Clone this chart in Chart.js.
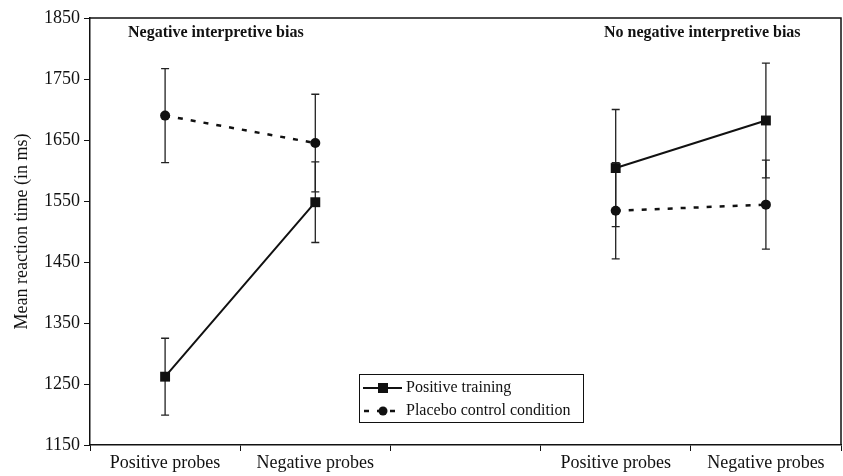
<!DOCTYPE html>
<html>
<head>
<meta charset="utf-8">
<script src="https://cdn.jsdelivr.net/npm/chart.js@4.4.1/dist/chart.umd.min.js"></script>
<style>
  html, body { margin: 0; padding: 0; background: #fff; overflow: hidden; }
  #wrap { width: 843px; height: 476px; overflow: hidden; }
</style>
</head>
<body>
<div id="wrap"><canvas id="grafico" width="848" height="476"></canvas></div>
<script>
// categories (the empty one separates the two groups)
var categories = ["Positive probes", "Negative probes", "", "Positive probes", "Negative probes"];

// mean reaction times (ms)
var training = [1262, 1548, null, 1604, 1682];
var placebo  = [1690, 1645, null, 1534, 1544];

// error bar half-lengths (ms)
var trainingErr = [63, 66, null, 96, 94];
var placeboErr  = [77, 80, null, 79, 73];

var yTicks = [1150, 1250, 1350, 1450, 1550, 1650, 1750, 1850];

var groupTitles = ["Negative interpretive bias", "No negative interpretive bias"];

var ink = '#111';
var serif = "'Liberation Serif', 'Times New Roman', serif";

// error bars drawn under the markers
var errorBars = {
	id: 'errorBars',
	beforeDatasetsDraw: function(chart){
		var ctx = chart.ctx;
		var x = chart.scales.x, y = chart.scales.y;
		var sets = [[training, trainingErr], [placebo, placeboErr]];
		ctx.save();
		ctx.strokeStyle = '#222';
		ctx.lineWidth = 1.3;
		sets.forEach(function(s){
			s[0].forEach(function(v, i){
				if (v === null) return;
				var px = x.getPixelForValue(i);
				var top = y.getPixelForValue(v + s[1][i]);
				var bot = y.getPixelForValue(v - s[1][i]);
				ctx.beginPath();
				ctx.moveTo(px, top); ctx.lineTo(px, bot);
				ctx.moveTo(px - 4, top); ctx.lineTo(px + 4, top);
				ctx.moveTo(px - 4, bot); ctx.lineTo(px + 4, bot);
				ctx.stroke();
			});
		});
		ctx.restore();
	}
};

// box, group titles and the legend inside the plot
var decorations = {
	id: 'decorations',
	afterDraw: function(chart){
		var ctx = chart.ctx, a = chart.chartArea;
		ctx.save();
		ctx.strokeStyle = ink;
		ctx.lineWidth = 1.5;
		ctx.beginPath();
		ctx.moveTo(a.left, a.top); ctx.lineTo(a.right, a.top); ctx.lineTo(a.right, a.bottom);
		ctx.stroke();

		ctx.fillStyle = ink;
		ctx.font = "bold 16px " + serif;
		ctx.textBaseline = 'middle';
		ctx.textAlign = 'left';
		ctx.fillText(groupTitles[0], a.left + 38, a.top + 15);
		ctx.fillText(groupTitles[1], a.left + 514, a.top + 15);

		// legend
		var lx = 359, ly = 374, lw = 224, lh = 48;
		ctx.fillStyle = '#fff';
		ctx.fillRect(lx, ly, lw, lh);
		ctx.lineWidth = 1;
		ctx.strokeStyle = ink;
		ctx.strokeRect(lx + 0.5, ly + 0.5, lw, lh);

		ctx.lineWidth = 2;
		ctx.beginPath(); ctx.moveTo(363, 388); ctx.lineTo(402, 388); ctx.stroke();
		ctx.fillStyle = ink;
		ctx.fillRect(378, 383, 10, 10);

		ctx.lineWidth = 2.5;
		ctx.setLineDash([5, 8]);
		ctx.beginPath(); ctx.moveTo(364, 411); ctx.lineTo(403, 411); ctx.stroke();
		ctx.setLineDash([]);
		ctx.beginPath(); ctx.arc(383, 411, 4.5, 0, Math.PI * 2); ctx.fill();

		ctx.font = "16px " + serif;
		ctx.fillText(chart.data.datasets[0].label, 406, 388);
		ctx.fillText(chart.data.datasets[1].label, 406, 411);
		ctx.restore();
	}
};

function exibirGrafico(){
	var data = {
		labels: categories,
		datasets: [
			{
				label: 'Positive training',
				data: training,
				borderColor: ink,
				backgroundColor: ink,
				borderWidth: 2,
				pointStyle: 'rect',
				pointRadius: 7,
				pointBackgroundColor: ink,
				pointBorderWidth: 0,
				spanGaps: false,
				tension: 0
			},
			{
				label: 'Placebo control condition',
				data: placebo,
				borderColor: ink,
				backgroundColor: ink,
				borderWidth: 2.5,
				borderDash: [5, 8],
				pointStyle: 'circle',
				pointRadius: 5,
				pointBackgroundColor: ink,
				pointBorderWidth: 0,
				spanGaps: false,
				tension: 0
			}
		]
	};

	var options = {
		responsive: false,
		animation: false,
		layout: { padding: { top: 18, right: 2, left: 0, bottom: 0 } },
		plugins: {
			legend: { display: false },
			tooltip: { enabled: false }
		},
		scales: {
			x: {
				offset: true,
				grid: { display: true, offset: true, drawOnChartArea: false, drawTicks: true, tickLength: 6, color: ink },
				border: { display: true, color: ink, width: 1.5 },
				ticks: { color: ink, font: { family: serif, size: 18 }, padding: 1, maxRotation: 0, autoSkip: false },
				afterFit: function(s){ s.height = 31; s.paddingLeft = 0; s.paddingRight = 0; }
			},
			y: {
				min: yTicks[0],
				max: yTicks[yTicks.length - 1],
				afterBuildTicks: function(s){ s.ticks = yTicks.map(function(v){ return { value: v }; }); },
				grid: { display: true, drawOnChartArea: false, drawTicks: true, tickLength: 6, color: ink },
				border: { display: true, color: ink, width: 1.5 },
				ticks: { color: ink, font: { family: serif, size: 18 }, padding: 4, callback: function(v){ return String(v); } },
				title: { display: true, text: 'Mean reaction time (in ms)', color: ink, font: { family: serif, size: 18 }, padding: { top: 11, bottom: 2 } },
				afterFit: function(s){ s.width = 90; }
			}
		}
	};

	var ctx = document.getElementById("grafico").getContext("2d");
	new Chart(ctx, { type: 'line', data: data, options: options, plugins: [errorBars, decorations] });
}

exibirGrafico();
</script>
</body>
</html>
